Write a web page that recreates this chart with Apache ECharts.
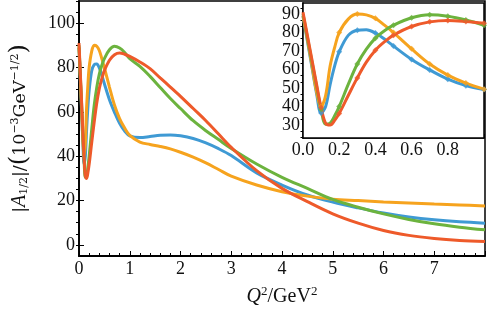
<!DOCTYPE html>
<html><head><meta charset="utf-8">
<script src="https://cdn.jsdelivr.net/npm/echarts@6/dist/echarts.min.js"></script>
<style>html,body{margin:0;padding:0;background:#fff}#c{width:488px;height:317px}</style>
</head><body><div id="c"></div>
<script>
// Q^2 values (GeV^2)
const Q2 = [0, 0.025, 0.05, 0.075, 0.1, 0.125, 0.15, 0.175, 0.2, 0.25, 0.3, 0.35, 0.4, 0.45, 0.5, 0.6, 0.7, 0.8, 0.9, 1.0,
  1.2, 1.4, 1.6, 1.8, 2.0, 2.25, 2.5, 2.75, 3.0, 3.5, 4.0, 4.5, 5.0, 5.5, 6.0, 6.5, 7.0, 7.5, 8.0];
// |A_1/2| values (10^-3 GeV^-1/2)
const blueVals = [89, 75, 61, 47, 36.5, 40, 52, 62, 69.6, 78.5, 81.3, 81.6, 79.8, 76.5, 72.7, 65.5, 59.8, 54.8, 51.3, 49.2,
  48.4, 48.9, 49.5, 49.6, 49.2, 48, 46, 43.4, 40.3, 32.5, 27, 22.5, 19.3, 16.7, 14.4, 12.6, 11.3, 10.4, 9.8];
const orangeVals = [89, 76, 62, 48, 40, 46, 62, 72, 80, 87.3, 90, 89.6, 87.7, 84, 80, 71.2, 63, 57, 52.7, 49.4,
  46.4, 45.3, 44.4, 43.3, 41.8, 39.6, 37, 34, 31, 27, 24, 22, 20.6, 20, 19.4, 18.9, 18.4, 18, 17.6];
const greenVals = [90, 77, 64, 51, 38.5, 30.5, 31, 35, 40, 52, 63, 71, 77, 81, 84, 88, 89.6, 88.8, 86.8, 84,
  80.5, 76, 71, 66, 61.5, 56, 51.5, 47.5, 43.5, 36.5, 30.5, 25.5, 20.5, 17, 14, 11.5, 9.5, 8, 6.8];
const redVals = [91, 78, 65, 52, 39.5, 31, 30, 32.5, 36.3, 46, 55.5, 64, 70.5, 75, 78.6, 83.3, 85.8, 86.6, 86, 85,
  82.5, 79.5, 75.3, 71.2, 67, 61.5, 56, 50, 44, 33.5, 25.5, 19.5, 14, 9.8, 6.5, 4.3, 2.9, 2, 1.5];

// tick values
const mainYMajor = [0, 20, 40, 60, 80, 100];
const mainYMinor = [0, 5, 10, 15, 20, 25, 30, 35, 40, 45, 50, 55, 60, 65, 70, 75, 80, 85, 90, 95, 100, 105, 110];
const insetYMajor = [30, 40, 50, 60, 70, 80, 90];
const insetYMinor = [23.33, 26.67, 33.33, 36.67, 43.33, 46.67, 53.33, 56.67, 63.33, 66.67, 73.33, 76.67, 83.33, 86.67, 93.33];

const F = 'Liberation Serif';
const FT = 'DejaVu Serif';
const TXT = '#111';
const curves = [
  {name: 'blue', color: '#3f9ad4', vals: blueVals},
  {name: 'orange', color: '#f6a31e', vals: orangeVals},
  {name: 'green', color: '#6cb33e', vals: greenVals},
  {name: 'red', color: '#ee5a2a', vals: redVals}
];
const pairs = v => Q2.map((q, i) => [q, v[i]]);
const insetPairs = v => pairs(v).filter(p => p[0] <= 1.0001);
const markerPairs = v => pairs(v).filter(p => p[0] > 0 && p[0] <= 1.0001 && Math.abs(p[0] * 10 - Math.round(p[0] * 10)) < 1e-9);

const tickStyle = {color: '#000', width: 1};
const lbl = {fontFamily: F, fontSize: 18, color: TXT};

const series = [];
curves.forEach(c => {
  series.push({type: 'line', xAxisIndex: 0, yAxisIndex: 0, data: pairs(c.vals), smooth: 0.35, showSymbol: false,
    lineStyle: {color: c.color, width: 3}, itemStyle: {color: c.color}, z: 3});
});
curves.forEach(c => {
  series.push({type: 'line', xAxisIndex: 1, yAxisIndex: 2, data: insetPairs(c.vals), smooth: 0.35, showSymbol: false,
    lineStyle: {color: c.color, width: 3}, itemStyle: {color: c.color}, z: 5});
  series.push({type: 'scatter', xAxisIndex: 1, yAxisIndex: 2, data: markerPairs(c.vals), symbol: 'diamond', symbolSize: 6,
    itemStyle: {color: c.color}, z: 6});
});

const option = {
  animation: false,
  backgroundColor: '#fff',
  grid: [
    {left: 72, top: 1, width: 413, height: 255, show: true, borderColor: '#000', borderWidth: 1.5, backgroundColor: 'transparent'},
    {left: 303, top: 3, width: 181, height: 135, show: true, borderColor: '#000', borderWidth: 1.5, backgroundColor: '#fff', z: 4}
  ],
  xAxis: [
    {gridIndex: 0, type: 'value', min: 0, max: 8, interval: 1,
      axisLine: {show: true, onZero: false, lineStyle: {color: '#000', width: 1.8}},
      axisTick: {inside: true, length: 5, lineStyle: tickStyle},
      minorTick: {show: true, splitNumber: 5, length: 3, lineStyle: tickStyle},
      axisLabel: Object.assign({showMaxLabel: false, margin: 4}, lbl),
      splitLine: {show: false},
      name: '{i|Q}{s|2}{n|/GeV}{s|2}', nameLocation: 'middle', nameGap: 29,
      nameTextStyle: {fontFamily: F, fontSize: 20, color: TXT, rich: {
        i: {fontFamily: F, fontSize: 20, fontStyle: 'italic', color: TXT},
        n: {fontFamily: F, fontSize: 20, color: TXT},
        s: {fontFamily: F, fontSize: 13, color: TXT, padding: [0, 0, 10, 0]}
      }}},
    {gridIndex: 1, type: 'value', min: 0, max: 1, interval: 0.2,
      axisLine: {show: true, onZero: false, lineStyle: {color: '#000', width: 1.6}},
      axisTick: {inside: true, length: 4, lineStyle: tickStyle},
      minorTick: {show: true, splitNumber: 4, length: 2.5, lineStyle: tickStyle},
      axisLabel: Object.assign({showMaxLabel: false, margin: 3, formatter: v => v.toFixed(1)}, lbl),
      splitLine: {show: false}}
  ],
  yAxis: [
    {gridIndex: 0, type: 'value', min: -5, max: 110,
      axisLine: {show: true, onZero: false, lineStyle: {color: '#000', width: 1.8}},
      axisTick: {inside: true, length: 5, customValues: mainYMajor, lineStyle: tickStyle},
      axisLabel: Object.assign({customValues: mainYMajor, margin: 4}, lbl),
      splitLine: {show: false},
      name: '{n||}{i|A}{b|1/2}{n||/}{p|(}{n|10}{s|\u22123}{n|GeV}{s|\u22121/2}{p|)}',
      nameLocation: 'middle', nameRotate: 90, nameGap: 47,
      nameTextStyle: {fontFamily: FT, fontSize: 17.5, color: TXT, rich: {
        i: {fontFamily: F, fontSize: 20, fontStyle: 'italic', color: TXT},
        n: {fontFamily: FT, fontSize: 17.5, color: TXT},
        p: {fontFamily: FT, fontSize: 24, color: TXT},
        s: {fontFamily: FT, fontSize: 11, color: TXT, padding: [0, 0, 9, 0]},
        b: {fontFamily: FT, fontSize: 11, color: TXT, padding: [8, 0, 0, 0]}
      }}},
    {gridIndex: 0, type: 'value', min: -5, max: 110,
      axisLine: {show: false}, axisLabel: {show: false}, splitLine: {show: false},
      axisTick: {show: true, inside: true, length: 3, customValues: mainYMinor, lineStyle: tickStyle}},
    {gridIndex: 1, type: 'value', min: 23, max: 96,
      axisLine: {show: true, onZero: false, lineStyle: {color: '#000', width: 1.6}},
      axisTick: {inside: true, length: 4, customValues: insetYMajor, lineStyle: tickStyle},
      axisLabel: Object.assign({customValues: insetYMajor, margin: 3}, lbl),
      splitLine: {show: false}},
    {gridIndex: 1, type: 'value', min: 23, max: 96,
      axisLine: {show: false}, axisLabel: {show: false}, splitLine: {show: false},
      axisTick: {show: true, inside: true, length: 2.5, customValues: insetYMinor, lineStyle: tickStyle}}
  ],
  series: series
};
const chart = echarts.init(document.getElementById('c'));
chart.setOption(option);
</script>
</body></html>
